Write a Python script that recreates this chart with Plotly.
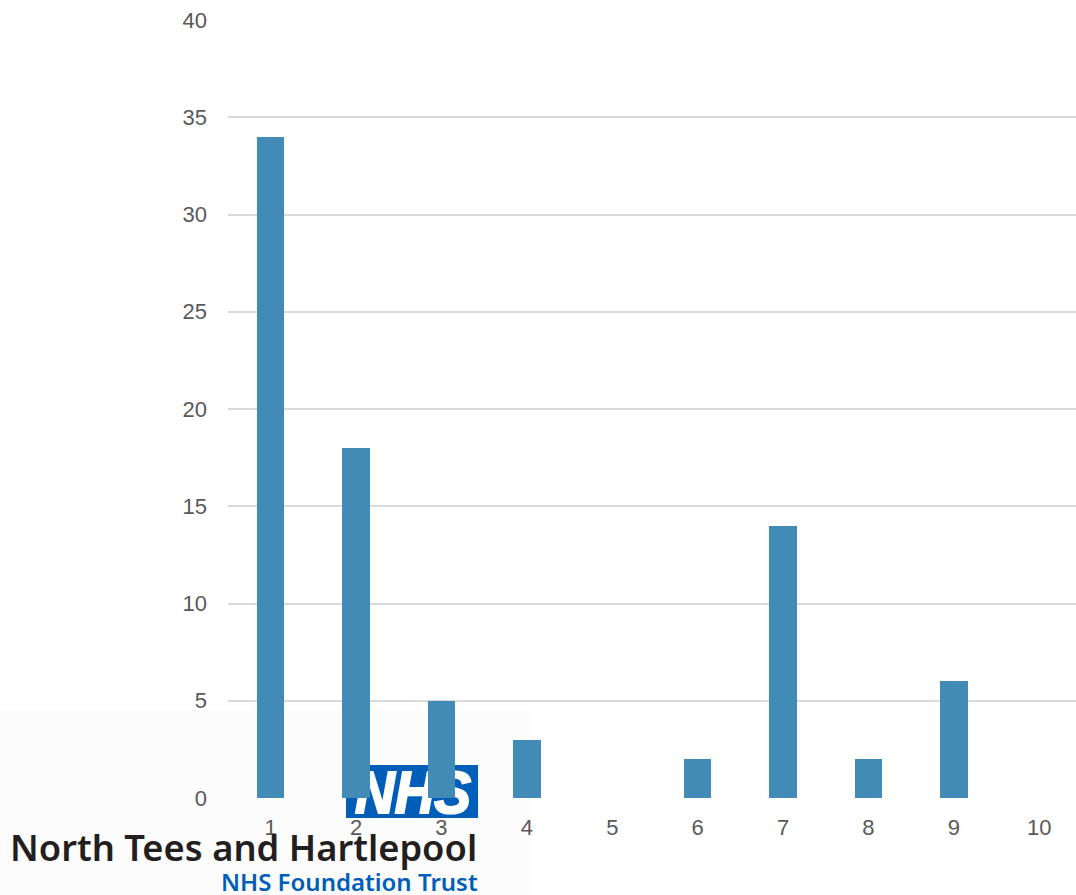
import base64
import plotly.graph_objects as go

# Chart data
categories = [1, 2, 3, 4, 5, 6, 7, 8, 9, 10]
counts = [34, 18, 5, 3, 0, 2, 14, 2, 6, 0]
y_ticks = [0, 5, 10, 15, 20, 25, 30, 35, 40]

W, H = 1076, 895
ML, MR, MT, MB = 228, 0, 20, 97
PW, PH = W - ML - MR, H - MT - MB


def px_x(p):
    return (p - ML) / PW


def px_y(p):
    return (H - MB - p) / PH


def svg_uri(svg):
    return "data:image/svg+xml;base64," + base64.b64encode(svg.encode()).decode()


BAR = "#428bb6"
NHS_BLUE = "#005eb8"
TICK_FONT = dict(family="Liberation Sans, Arial, sans-serif", size=22, color="#595959")

# faint backdrop behind the trust logo
backdrop_svg = (
    '<svg xmlns="http://www.w3.org/2000/svg" width="532" height="185" viewBox="0 0 532 185">'
    '<rect x="0" y="0" width="532" height="185" fill="#fcfcfc"/></svg>'
)

# NHS lozenge (blue box, heavy white italic lettering)
logo_svg = (
    '<svg xmlns="http://www.w3.org/2000/svg" width="132" height="53" viewBox="0 0 132 53">'
    f'<rect x="0" y="0" width="132" height="53" fill="{NHS_BLUE}"/>'
    '<text x="67" y="48" text-anchor="middle" textLength="116" lengthAdjust="spacingAndGlyphs" '
    'font-family="Liberation Sans, Arial, sans-serif" font-weight="bold" font-style="italic" '
    'font-size="60" fill="white" stroke="white" stroke-width="2.2">NHS</text></svg>'
)

fig = go.Figure(
    go.Bar(
        x=categories,
        y=counts,
        width=0.32,
        marker=dict(color=BAR, line=dict(width=0)),
        hoverinfo="x+y",
    )
)

images = [
    dict(source=svg_uri(backdrop_svg), xref="paper", yref="paper",
         x=px_x(0), y=px_y(710), sizex=532 / PW, sizey=185 / PH,
         xanchor="left", yanchor="top", sizing="stretch", layer="below"),
    dict(source=svg_uri(logo_svg), xref="paper", yref="paper",
         x=px_x(346), y=px_y(765), sizex=132 / PW, sizey=53 / PH,
         xanchor="left", yanchor="top", sizing="stretch", layer="below"),
]

annotations = [
    dict(text="North Tees and Hartlepool", xref="paper", yref="paper",
         x=px_x(479), y=px_y(847), xanchor="right", yanchor="middle",
         showarrow=False,
         font=dict(family="Noto Sans, sans-serif", size=36.3, color="#231f20", weight=600)),
    dict(text="NHS Foundation Trust", xref="paper", yref="paper",
         x=px_x(480), y=px_y(881), xanchor="right", yanchor="middle",
         showarrow=False,
         font=dict(family="Noto Sans, sans-serif", size=24, color=NHS_BLUE, weight=600)),
]

fig.update_layout(
    width=W, height=H,
    margin=dict(l=ML, r=MR, t=MT, b=MB, pad=0),
    paper_bgcolor="white", plot_bgcolor="rgba(0,0,0,0)",
    showlegend=False,
    bargap=0,
    images=images,
    annotations=annotations,
    xaxis=dict(
        range=[0.5, 10.43], tickmode="array", tickvals=categories,
        ticktext=[str(c) for c in categories],
        showgrid=False, zeroline=False, showline=False,
        ticks="", ticklabelstandoff=14, tickfont=TICK_FONT,
    ),
    yaxis=dict(
        range=[0, 40], tickmode="array", tickvals=y_ticks,
        showgrid=True, gridcolor="#d9d9d9", gridwidth=2,
        zeroline=False, showline=False,
        ticks="", ticklabelstandoff=20, tickfont=TICK_FONT,
    ),
)

fig.write_html("out.html")
